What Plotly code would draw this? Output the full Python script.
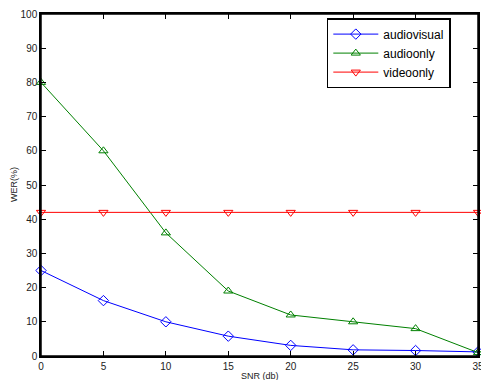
import plotly.graph_objects as go

snr = [0, 5, 10, 15, 20, 25, 30, 35]
audiovisual = [25, 16.2, 10, 5.8, 3.1, 1.8, 1.6, 1.2]
audioonly = [80, 60, 36, 19, 12, 10, 8, 1]
videoonly = [42, 42, 42, 42, 42, 42, 42, 42]

x_ticks = [0, 5, 10, 15, 20, 25, 30, 35]
y_ticks = [0, 10, 20, 30, 40, 50, 60, 70, 80, 90, 100]

fig = go.Figure()
series = [
    ("audiovisual", audiovisual, "#0000ff", "diamond-open"),
    ("audioonly", audioonly, "#008000", "triangle-up-open"),
    ("videoonly", videoonly, "#ff0000", "triangle-down-open"),
]
for name, vals, col, sym in series:
    fig.add_trace(go.Scatter(
        x=snr, y=vals, name=name, mode="lines+markers",
        line=dict(color=col, width=1),
        marker=dict(symbol=sym, size=8, color=col, line=dict(width=1, color=col)),
        cliponaxis=False,
    ))

axis_common = dict(
    showgrid=False, zeroline=False, showline=True, linecolor="black", linewidth=1.5,
    mirror="allticks", ticks="inside", ticklen=5, tickcolor="black", automargin=False,
    ticklabeloverflow="allow",
    tickfont=dict(family="Liberation Sans, Arial", size=10, color="#222"),
)
fig.update_xaxes(range=[0, 35], tickvals=x_ticks, **axis_common)
fig.update_yaxes(range=[0, 100], tickvals=y_ticks, **axis_common)

fig.add_shape(type="rect", xref="paper", yref="paper", x0=0, y0=0, x1=1, y1=1,
              line=dict(color="black", width=1.5), layer="above")

fig.add_annotation(text="SNR (db)", xref="paper", yref="paper", x=0.5, y=0,
                   yshift=-13, showarrow=False, yanchor="top",
                   font=dict(family="Liberation Sans, Arial", size=9, color="#222"))
fig.add_annotation(text="WER(%)", xref="paper", yref="paper", x=0, y=0.5,
                   xshift=-27, showarrow=False, textangle=-90, xanchor="center",
                   font=dict(family="Liberation Sans, Arial", size=9, color="#222"))

fig.update_layout(
    width=481, height=380,
    margin=dict(l=41, r=3, t=14, b=24),
    plot_bgcolor="white", paper_bgcolor="white",
    legend=dict(x=0.654, y=0.988, xanchor="left", yanchor="top",
                bordercolor="black", borderwidth=1.5, bgcolor="white",
                font=dict(family="Liberation Sans, Arial", size=12, color="black"),
                tracegroupgap=0, itemwidth=45),
)
fig.write_html("out.html", config={"displayModeBar": False},
               post_script="document.body.style.margin='0';document.body.style.overflow='hidden';")
